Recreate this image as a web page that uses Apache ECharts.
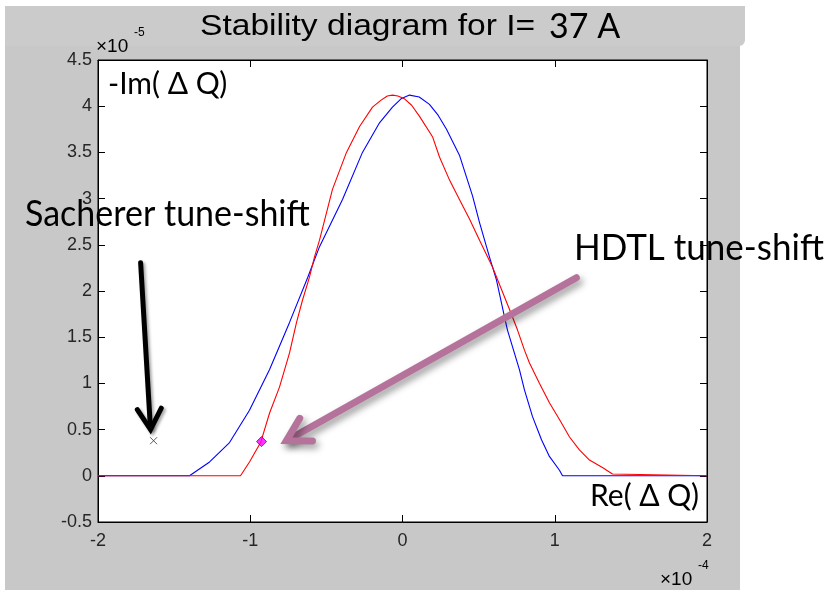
<!DOCTYPE html>
<html><head><meta charset="utf-8">
<script src="https://cdn.jsdelivr.net/npm/echarts@6.0.0/dist/echarts.min.js"></script>
<style>
html,body{margin:0;padding:0;background:#fff;}
#wrap{position:relative;width:836px;height:590px;overflow:hidden;}
#bg{position:absolute;left:5px;top:6px;width:735px;height:584px;background:#c8c8c8;}
#tb{position:absolute;left:5px;top:6px;width:740px;height:40px;background:#cbcbcb;border-bottom-right-radius:6px;}
#chart{position:absolute;left:0;top:0;width:836px;height:590px;}
</style></head><body>
<div id="wrap"><div id="bg"></div><div id="tb"></div><div id="chart"></div></div>
<script>
// ---- data (units: Re x1e-4, -Im x1e-5) ----
const xTicks = [-2, -1, 0, 1, 2];
const xTickLabels = ['-2', '-1', '0', '1', '2'];
const yTicks = [-0.5, 0, 0.5, 1, 1.5, 2, 2.5, 3, 3.5, 4, 4.5];
const yTickLabels = ['-0.5', '0', '0.5', '1', '1.5', '2', '2.5', '3', '3.5', '4', '4.5'];

const redX = [-2.0, -1.064, -1.005, -0.932, -0.873, -0.808, -0.742, -0.696, -0.657, -0.611, -0.578, -0.545, -0.460, -0.368, -0.282, -0.197, -0.145, -0.100, -0.066, -0.030, 0.013, 0.060, 0.112, 0.197, 0.243, 0.309, 0.374, 0.440, 0.506, 0.591, 0.703, 0.755, 0.801, 0.834, 0.900, 0.965, 1.031, 1.097, 1.162, 1.228, 1.313, 1.379, 2.0];
const redY = [0, 0, 0.15, 0.36, 0.68, 0.96, 1.33, 1.66, 1.90, 2.15, 2.37, 2.55, 3.10, 3.50, 3.78, 3.99, 4.06, 4.11, 4.12, 4.11, 4.08, 4.01, 3.89, 3.67, 3.45, 3.20, 2.99, 2.78, 2.55, 2.26, 1.80, 1.58, 1.36, 1.22, 1.00, 0.79, 0.61, 0.42, 0.28, 0.17, 0.09, 0.02, 0];

const blueX = [-2.0, -1.399, -1.267, -1.136, -1.005, -0.873, -0.742, -0.624, -0.545, -0.394, -0.263, -0.151, -0.066, -0.010, 0.046, 0.110, 0.177, 0.235, 0.289, 0.374, 0.460, 0.506, 0.571, 0.617, 0.670, 0.689, 0.768, 0.801, 0.854, 0.913, 0.965, 1.031, 1.051, 2.0];
const blueY = [0, 0, 0.15, 0.36, 0.71, 1.15, 1.66, 2.14, 2.48, 2.99, 3.50, 3.82, 3.99, 4.08, 4.12, 4.10, 4.02, 3.90, 3.75, 3.47, 3.03, 2.74, 2.37, 2.12, 1.72, 1.58, 1.15, 0.93, 0.64, 0.39, 0.21, 0.06, 0, 0];

const sachererPoint = [-1.635, 0.38];
const hdtlPoint = [-0.926, 0.37];
const sachererArrow = [[-1.72, 2.305], [-1.655, 0.50]];
const hdtlArrow = [[1.142, 2.143], [-0.762, 0.38]];

// ---- chart ----
const chart = echarts.init(document.getElementById('chart'), null, {renderer: 'canvas'});
function lab(ticks, labels) {
  return v => { const i = ticks.findIndex(t => Math.abs(t - v) < 1e-9); return i < 0 ? '' : labels[i]; };
}
const tickFont = {fontFamily: 'Liberation Sans', fontSize: 18, color: '#262626'};
const axLine = {show: true, onZero: false, lineStyle: {color: '#000', width: 1}};
const axTick = {show: true, inside: true, length: 7, lineStyle: {color: '#000', width: 1}};
const pairs = (xs, ys) => xs.map((x, i) => [x, ys[i]]);

chart.setOption({
  animation: false,
  backgroundColor: 'transparent',
  grid: {left: 98, right: 129, top: 60, bottom: 68, show: true, backgroundColor: '#fff', borderColor: '#000', borderWidth: 1},
  xAxis: [
    {type: 'value', min: xTicks[0], max: xTicks[xTicks.length - 1], interval: 1, position: 'bottom',
     axisLine: axLine, axisTick: axTick, splitLine: {show: false},
     axisLabel: Object.assign({margin: 10, formatter: lab(xTicks, xTickLabels)}, tickFont)},
    {type: 'value', min: xTicks[0], max: xTicks[xTicks.length - 1], interval: 1, position: 'top',
     axisLine: axLine, axisTick: axTick, splitLine: {show: false}, axisLabel: {show: false}}
  ],
  yAxis: [
    {type: 'value', min: yTicks[0], max: yTicks[yTicks.length - 1], interval: 0.5, position: 'left',
     axisLine: axLine, axisTick: axTick, splitLine: {show: false},
     axisLabel: Object.assign({margin: 6, formatter: lab(yTicks, yTickLabels)}, tickFont)},
    {type: 'value', min: yTicks[0], max: yTicks[yTicks.length - 1], interval: 0.5, position: 'right',
     axisLine: axLine, axisTick: axTick, splitLine: {show: false}, axisLabel: {show: false}}
  ],
  series: [
    {type: 'line', data: pairs(blueX, blueY), showSymbol: false, symbol: 'none',
     lineStyle: {color: '#0000ff', width: 1.1}, z: 2},
    {type: 'line', data: pairs(redX, redY), showSymbol: false, symbol: 'none',
     lineStyle: {color: '#ff0000', width: 1.1}, z: 3},
    {type: 'scatter', data: [sachererPoint], symbol: 'path://M0,0L10,10M10,0L0,10', symbolSize: 7,
     itemStyle: {color: 'none', borderColor: '#333', borderWidth: 1}, z: 4},
    {type: 'scatter', data: [hdtlPoint], symbol: 'diamond', symbolSize: 10,
     itemStyle: {color: '#ff00ff', borderColor: '#5a00d0', borderWidth: 1}, z: 5}
  ]
});

function arrow(a, b, color, width, headLen, shadow) {
  const p0 = chart.convertToPixel({xAxisIndex: 0, yAxisIndex: 0}, a);
  const p1 = chart.convertToPixel({xAxisIndex: 0, yAxisIndex: 0}, b);
  const dx = p0[0] - p1[0], dy = p0[1] - p1[1];
  const L = Math.hypot(dx, dy), ux = dx / L, uy = dy / L;
  const ang = Math.PI / 6;
  const rot = t => [ux * Math.cos(t) - uy * Math.sin(t), ux * Math.sin(t) + uy * Math.cos(t)];
  const r1 = rot(ang), r2 = rot(-ang);
  const st = Object.assign({stroke: color, lineWidth: width, fill: 'none', lineCap: 'round', lineJoin: 'miter'}, shadow);
  return [
    {type: 'polyline', shape: {points: [p0, [p1[0] + ux * 2, p1[1] + uy * 2]]}, style: Object.assign({}, st), z: 50},
    {type: 'polyline', shape: {points: [[p1[0] + r1[0] * headLen, p1[1] + r1[1] * headLen], p1,
      [p1[0] + r2[0] * headLen, p1[1] + r2[1] * headLen]]}, style: Object.assign({}, st), z: 50}
  ];
}
function txt(text, x, y, size, family, opts) {
  return Object.assign({type: 'text', x: x, y: y, z: 60,
    style: {text: text, fontSize: size, fontFamily: family, fill: '#000',
      align: 'left', textAlign: 'left', verticalAlign: 'middle', textVerticalAlign: 'middle'}}, opts || {});
}
const shBlack = {shadowBlur: 3, shadowColor: 'rgba(0,0,0,0.35)', shadowOffsetX: 2, shadowOffsetY: 2};
const shPink = {shadowBlur: 7, shadowColor: 'rgba(0,0,0,0.4)', shadowOffsetX: 3, shadowOffsetY: 4};

const els = [].concat(
  arrow(sachererArrow[0], sachererArrow[1], '#000', 5, 24, shBlack),
  arrow(hdtlArrow[0], hdtlArrow[1], '#b5739c', 7, 26, shPink),
  [
    txt('Stability diagram for I=', 200, 27, 30, 'Liberation Sans', {scaleX: 1.12}),
    txt('37 A', 549, 27, 34, 'Lato'),
    txt('\u00d710', 96, 47, 19, 'Liberation Sans'),
    txt('-5', 134, 33, 12, 'Liberation Sans'),
    txt('\u00d710', 660, 580, 19, 'Liberation Sans'),
    txt('-4', 698, 566, 12, 'Liberation Sans'),
    txt('-Im( \u0394 Q)', 108, 84, 30, 'Lato'),
    txt('Re( \u0394 Q)', 590, 496, 30, 'Lato'),
    txt('Sacherer tune-shift', 25, 214, 34, 'Lato', {scaleY: 1.08}),
    txt('HDTL tune-shift', 574, 248, 35, 'Lato', {scaleY: 1.05})
  ]
);
chart.setOption({graphic: {elements: els}});
</script></body></html>
